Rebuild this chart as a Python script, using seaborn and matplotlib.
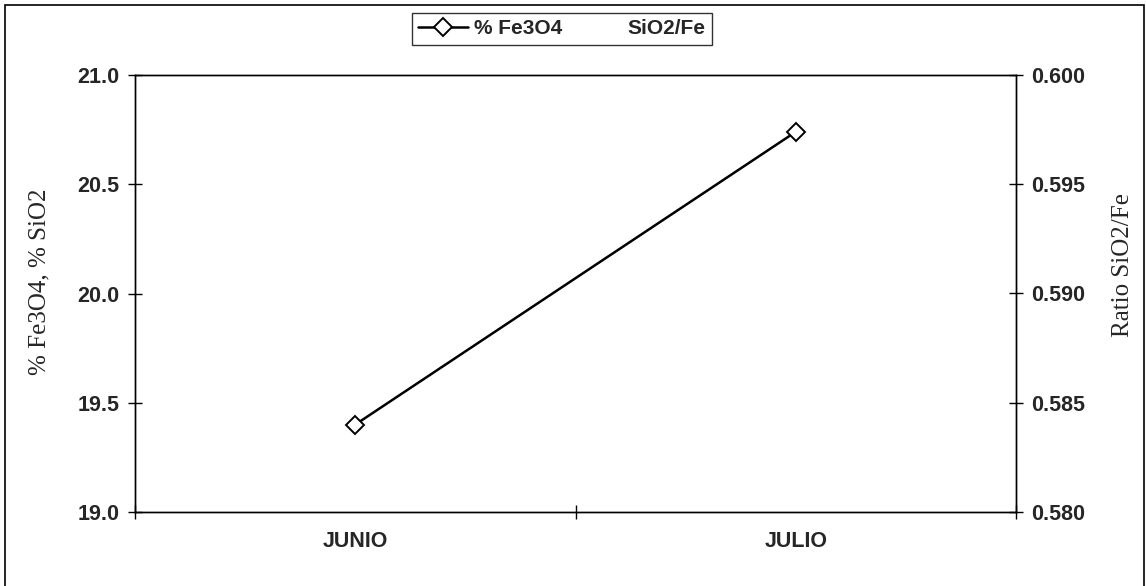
import seaborn as sns
import matplotlib.pyplot as plt
import matplotlib.patches as patches
from matplotlib.lines import Line2D
import pandas as pd
import numpy as np

# data
meses = ['JUNIO', 'JULIO']
fe3o4 = [19.40, 20.74]
left_ticks = [19.0, 19.5, 20.0, 20.5, 21.0]
right_ticks = [0.580, 0.585, 0.590, 0.595, 0.600]

df = pd.DataFrame({'MES': meses, 'FE3O4': fe3o4})

sns.set_style('white')
plt.rcParams['font.family'] = ['Liberation Sans', 'DejaVu Sans']
plt.rcParams['font.weight'] = 'bold'

fig = plt.figure(figsize=(11.46, 5.86), dpi=100)
ax = fig.add_axes([135/1146, 1-512/586, 881/1146, 437/586])

sns.lineplot(data=df, x='MES', y='FE3O4', color='black', linewidth=1.8,
             marker='D', markersize=9, markerfacecolor='white',
             markeredgecolor='black', markeredgewidth=1.4, ax=ax)

ax.set_xlim(-0.5, 1.5)
ax.set_ylim(19.0, 21.0)
ax.set_yticks(left_ticks)
ax.set_yticklabels([f'{t:.1f}' for t in left_ticks])
ax.set_xticks([0, 1])
ax.set_xticklabels(meses)
ax.set_xticks([-0.5, 0.5, 1.5], minor=True)
ax.tick_params(axis='x', which='major', length=0, pad=14, labelsize=15.5)
ax.tick_params(axis='x', which='minor', direction='inout', length=10,
               width=1, color='black', bottom=True)
ax.tick_params(axis='y', direction='inout', length=10, width=1,
               color='black', labelsize=15.5, left=True, pad=6)
ax.set_xlabel('')
ax.set_ylabel('% Fe3O4, % SiO2', fontsize=18, family=['Liberation Serif'],
              fontweight='normal')
ax.yaxis.set_label_coords(-0.108, 0.526)
ax.yaxis.label.set_va('center')
for s in ax.spines.values():
    s.set_color('black')
    s.set_linewidth(1)

ax2 = ax.twinx()
ax2.set_ylim(0.580, 0.600)
ax2.set_yticks(right_ticks)
ax2.set_yticklabels([f'{t:.3f}' for t in right_ticks])
ax2.tick_params(axis='y', direction='inout', length=10, width=1,
                color='black', labelsize=15.5, right=True, pad=6)
ax2.set_ylabel('Ratio SiO2/Fe', fontsize=18, family=['Liberation Serif'],
               fontweight='normal', rotation=90)
ax2.yaxis.set_label_coords(1.1215, 0.565)
ax2.yaxis.label.set_va('center')
for s in ax2.spines.values():
    s.set_color('black')
    s.set_linewidth(1)

handles = [Line2D([], [], color='black', linewidth=1.8, marker='D',
                  markersize=9, markerfacecolor='white',
                  markeredgecolor='black', markeredgewidth=1.4),
           Line2D([], [], linestyle='none', marker='none')]
leg = fig.legend(handles, ['% Fe3O4', 'SiO2/Fe'], loc='center',
                 bbox_to_anchor=(562/1146, 1-29/586), ncol=2,
                 prop={'size': 15, 'weight': 'bold'},
                 frameon=True, fancybox=False, handlelength=2.4,
                 handletextpad=0.25, columnspacing=0.5, borderpad=0.3)
leg.get_frame().set_edgecolor('black')
leg.get_frame().set_linewidth(1)

# outer chart border
fig.patches.append(patches.Rectangle((5/1146, -0.1), 1139/1146, 1.1-5/586,
                                     transform=fig.transFigure, fill=False,
                                     edgecolor='black', linewidth=1.2))

fig.savefig('out.png', dpi=100, facecolor='white')
